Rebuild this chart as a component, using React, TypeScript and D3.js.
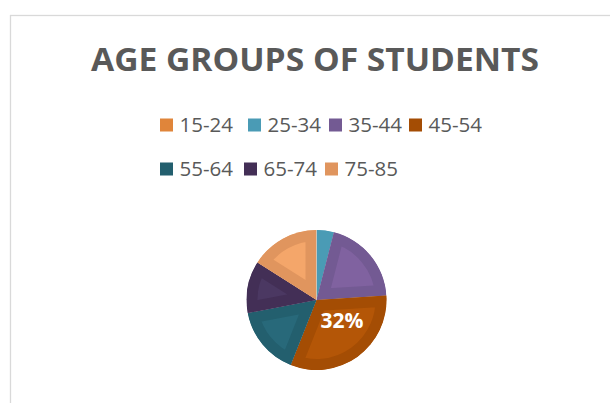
import React from "react";
import * as d3 from "d3";

const categories = ["15-24", "25-34", "35-44", "45-54", "55-64", "65-74", "75-85"];
const values = [0, 4, 20, 32, 16, 12, 16];
const colors = ["#E0853A", "#4A9BB5", "#735A93", "#A44D04", "#235F6E", "#432F56", "#E0955E"];
const innerColors = ["#F0954A", "#4A9BB5", "#8062A0", "#B45607", "#28697A", "#4B3862", "#F4A66A"];
const labeledCategories = ["45-54"];
const title = "AGE GROUPS OF STUDENTS";

const legendRow1X = [160, 248, 329, 409];
const legendRow2X = [160, 244, 325];

export default function App() {
  const W = 610, H = 403;
  const cx = 316.5, cy = 300, R = 70;
  const data = categories.map((c, i) => ({ c, v: values[i], i }));
  const pie = d3.pie<any>().sort(null).value((d: any) => d.v);
  const arcs = pie(data);
  const arc = d3.arc<any>().innerRadius(0).outerRadius(R);
  const total = d3.sum(values);
  const legendPos = categories.map((_, i) =>
    i < 4 ? { x: legendRow1X[i], y: 132 } : { x: legendRow2X[i - 4], y: 176 }
  );
  const font = "'Open Sans', 'Noto Sans', sans-serif";
  return (
    <svg width={W} height={H} style={{ position: "absolute", left: 0, top: 0 }}>
      <rect x={0} y={0} width={W} height={H} fill="#fff" />
      <rect x={10.5} y={15.5} width={W + 20} height={H + 20} fill="#fff" stroke="#D9D9D9" strokeWidth={1.3} />
      <text
        x={315}
        y={70.5}
        textAnchor="middle"
        fontFamily={font}
        fontWeight={700}
        fontSize={32.5}
        textLength={448}
        lengthAdjust="spacingAndGlyphs"
        fill="#595959"
      >
        {title}
      </text>
      {categories.map((c, i) => (
        <g key={c}>
          <rect x={legendPos[i].x} y={legendPos[i].y - 13.5} width={13} height={13} fill={colors[i]} />
          <text x={legendPos[i].x + 19.5} y={legendPos[i].y} fontFamily={font} fontSize={20.5} fill="#595959">
            {c}
          </text>
        </g>
      ))}
      <defs>
        {arcs.map((a: any) => (
          <clipPath id={`clip${a.data.i}`} key={a.data.c}>
            <path d={arc(a) || ""} />
          </clipPath>
        ))}
      </defs>
      <g transform={`translate(${cx},${cy})`}>
        {arcs.map((a: any) =>
          a.data.v > 0 ? (
            <g key={a.data.c}>
              <path
                d={arc(a) || ""}
                fill={innerColors[a.data.i]}
                stroke={colors[a.data.i]}
                strokeWidth={22}
                strokeLinejoin="miter"
                clipPath={`url(#clip${a.data.i})`}
              />
            </g>
          ) : null
        )}
        {arcs
          .filter((a: any) => labeledCategories.includes(a.data.c))
          .map((a: any) => {
            const [lx, ly] = arc.centroid(a);
            return (
              <text
                key={a.data.c}
                x={lx + 5}
                y={ly - 8}
                textAnchor="middle"
                dominantBaseline="central"
                fontFamily={font}
                fontWeight={700}
                fontSize={21}
                fill="#fff"
              >
                {d3.format(".0%")(a.data.v / total)}
              </text>
            );
          })}
      </g>
    </svg>
  );
}
